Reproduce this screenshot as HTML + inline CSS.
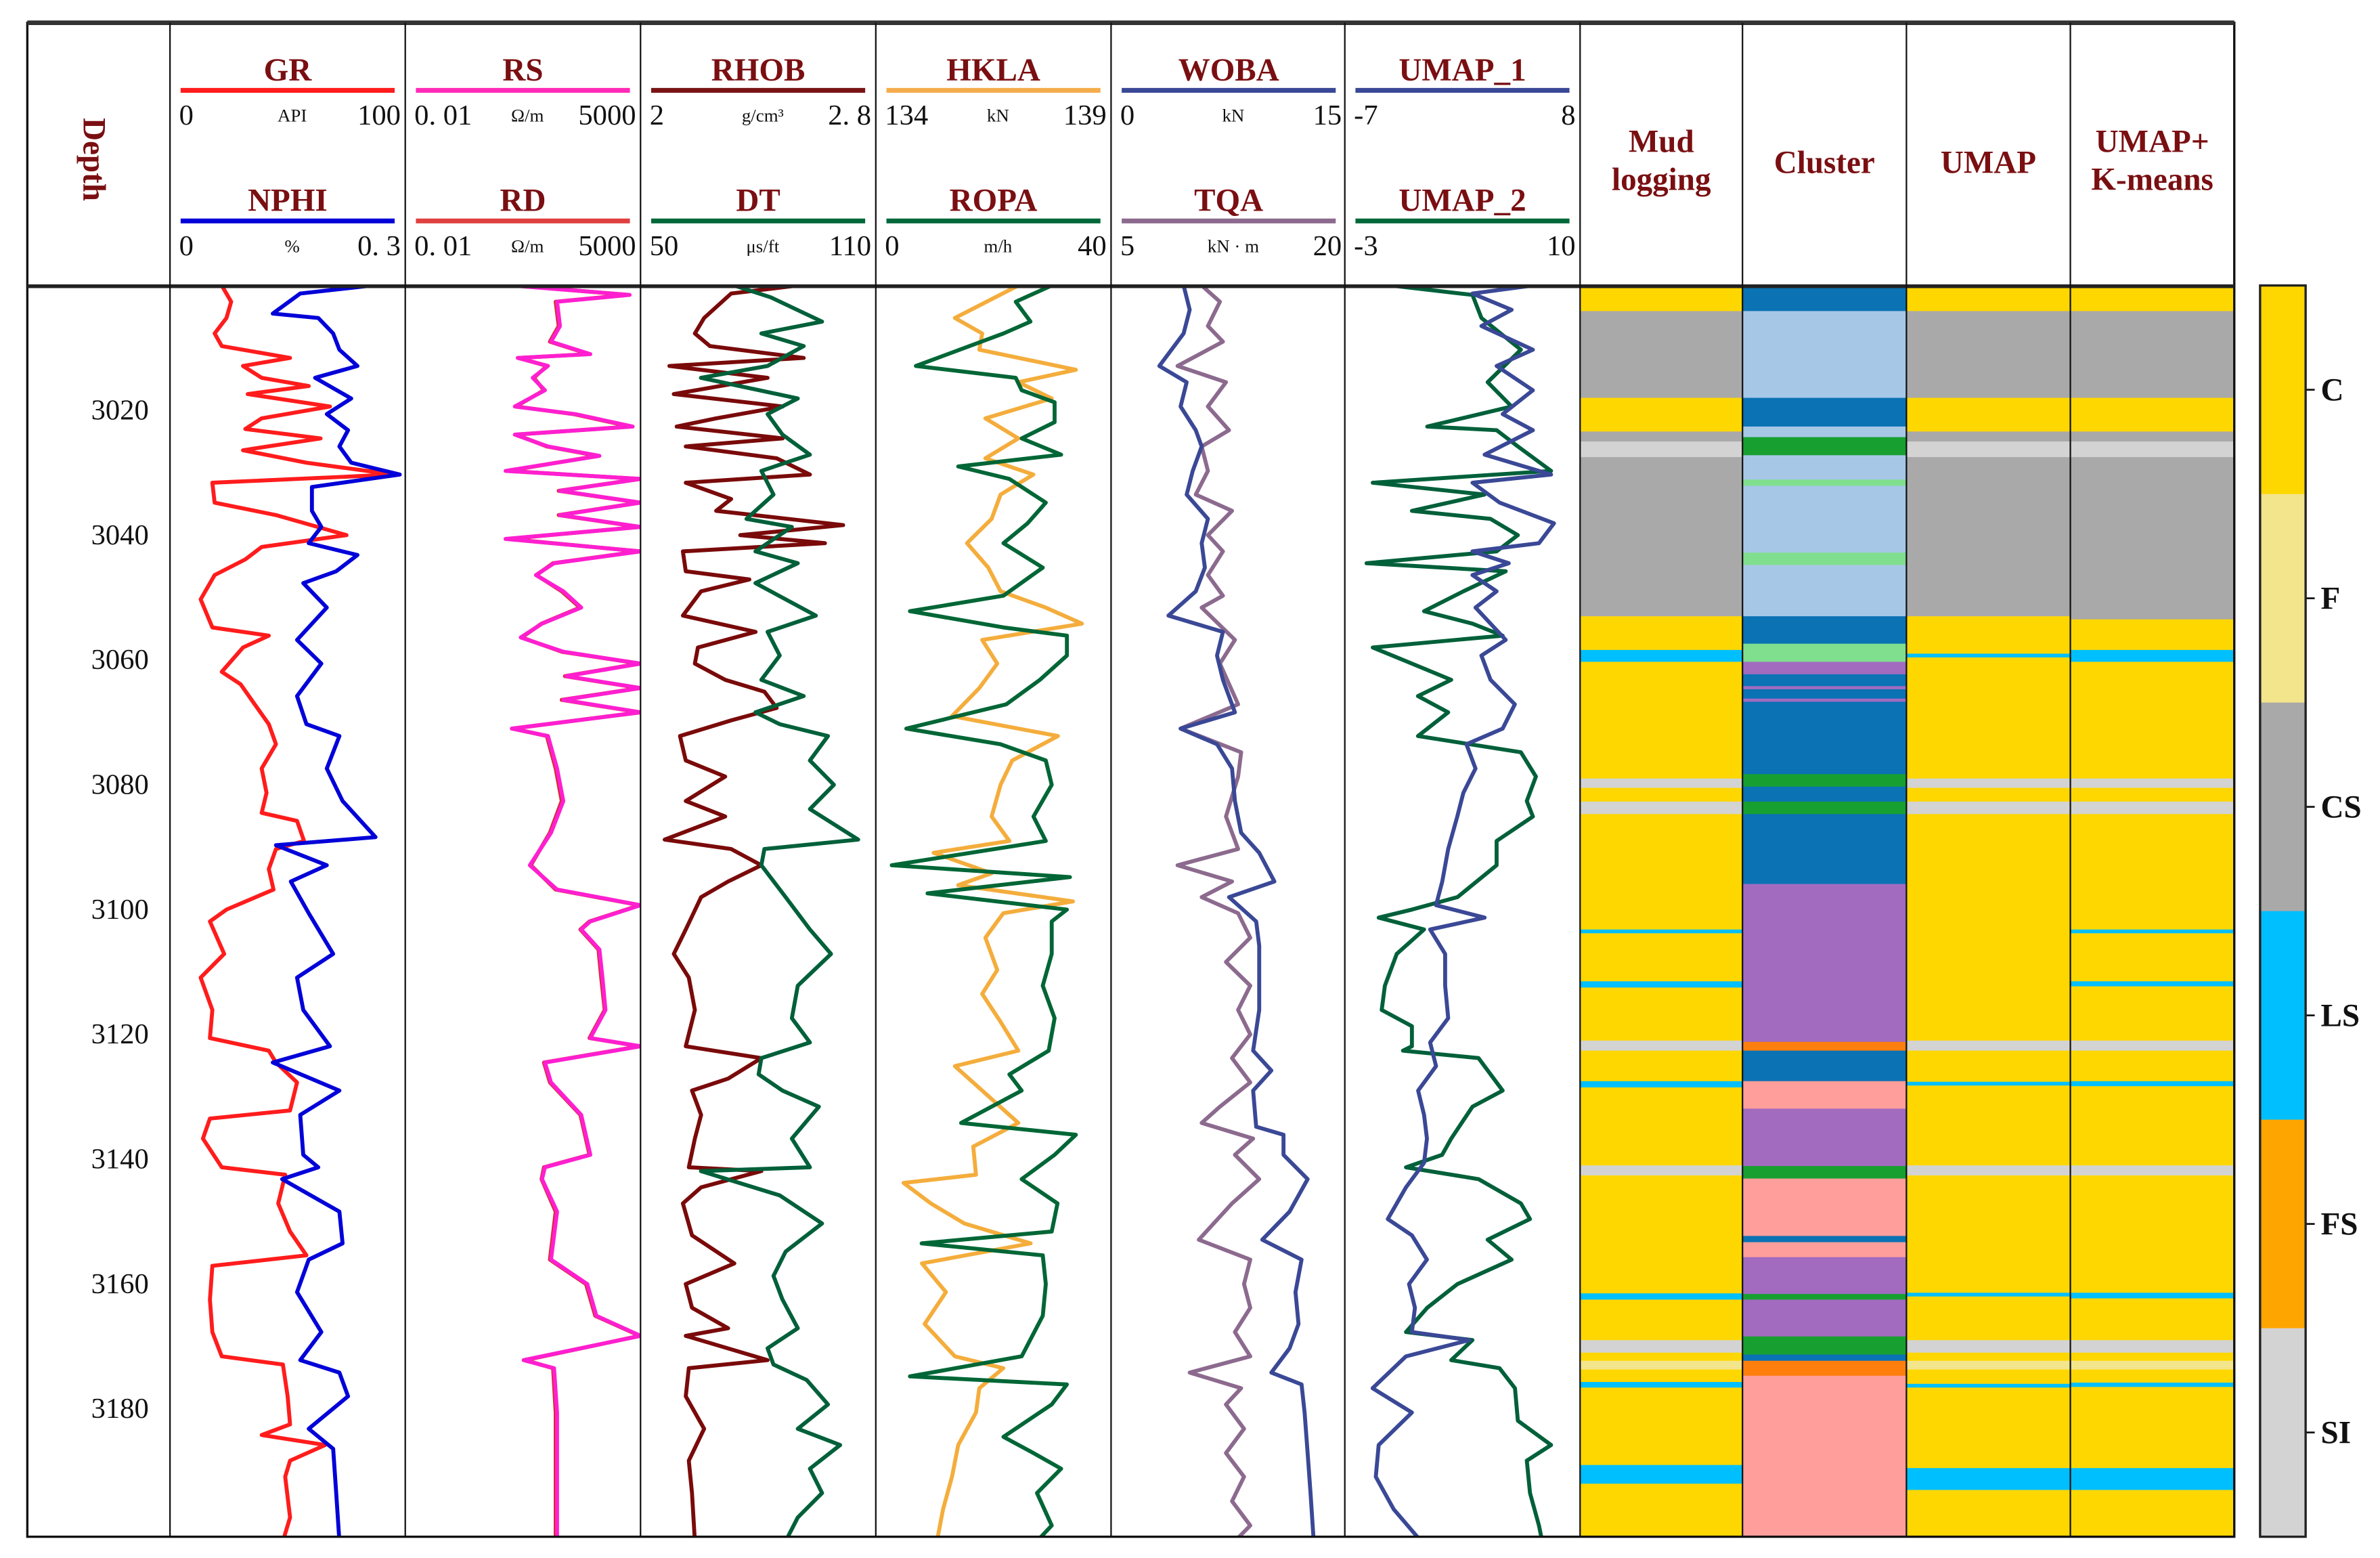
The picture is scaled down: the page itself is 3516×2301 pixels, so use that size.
<!DOCTYPE html>
<html><head><meta charset="utf-8">
<style>
html,body{margin:0;padding:0;background:#fff;}
svg{display:block;}
text{font-family:"Liberation Serif","Noto Serif CJK SC",serif;}
.ttl{font-weight:bold;fill:#7a0f12;font-size:21px;}
.sc{font-size:19px;fill:#111;}
.un{font-size:12px;fill:#111;}
.dl{font-size:19px;fill:#111;}
.lg{font-weight:bold;font-size:21px;fill:#111;}
</style></head>
<body>
<svg id="chart" width="3516" height="2301" viewBox="0 0 1568 1026" preserveAspectRatio="none" xmlns="http://www.w3.org/2000/svg">
<rect x="0" y="0" width="1568" height="1026" fill="#fff"/>
<g id="tracks"></g>
<g id="facies"></g>
<g id="frame"></g>
<g id="hdr"></g>
</svg>
<script>
// ---------- DATA ----------
const gr_d=[3000,3002.6,3005.2,3007.7,3009.7,3011.6,3012.9,3014.8,3016.1,3017.4,3019.4,3021.3,3023,3024.5,3026.4,3028.4,3030.3,3031.6,3034.8,3036.8,3040,3041.9,3043.9,3046.4,3050.3,3054.8,3056.1,3058,3061.9,3063.9,3067.1,3070.3,3073.5,3077.4,3081.3,3084.5,3085.8,3089,3090.3,3093.5,3096.8,3100,3101.9,3107.1,3110.9,3116.1,3120.6,3122.6,3124.5,3127.7,3132.2,3133.5,3136.7,3141.3,3142.5,3147.1,3151.6,3155.4,3157.1,3162.5,3167.7,3171.6,3172.9,3178,3182.5,3184.2,3185.8,3188.3,3190.9,3197.4,3201.2];
const gr_v=[22,26,24,19,22,51,31,39,59,33,68,39,32,64,31,58,95,18,19,45,75,39,32,19,13,18,42,31,22,30,36,42,45,39,41,39,54,57,45,42,44,24,17,23,13,18,17,42,45,54,51,17,14,22,49,46,51,58,18,17,18,22,48,50,51,39,66,51,49,51,48];
const nphi_d=[3000,3001.3,3004.5,3005.2,3007.7,3010.3,3012.9,3014.8,3018.1,3020.6,3023.2,3025.8,3028.4,3030.3,3032.3,3036.1,3038.7,3041.3,3043.2,3045.8,3047.7,3051.6,3056.8,3060.6,3065.8,3070.3,3072.2,3077.4,3082.6,3088.4,3089.7,3092.9,3095.5,3100.6,3107.1,3110.9,3116.1,3121.9,3124.5,3129,3132.9,3139.3,3141.3,3143.2,3148.4,3153.5,3156.1,3161.3,3167.7,3172.2,3174.2,3178,3183.2,3186.4,3193.5,3201.2];
const nphi_v=[0.258,0.166,0.131,0.189,0.208,0.216,0.239,0.185,0.231,0.2,0.227,0.216,0.231,0.293,0.181,0.181,0.193,0.177,0.239,0.212,0.17,0.2,0.162,0.193,0.162,0.174,0.216,0.2,0.22,0.262,0.135,0.2,0.154,0.177,0.208,0.162,0.17,0.204,0.131,0.216,0.166,0.17,0.189,0.143,0.216,0.22,0.177,0.162,0.193,0.166,0.216,0.227,0.177,0.208,0.212,0.216];
const rs_d=[3000,3001.5,3002.6,3006.5,3009,3011,3011.6,3012.9,3014.8,3016.8,3019.4,3020.6,3022.6,3023.9,3025.8,3027.3,3029.7,3031,3032.9,3034.8,3036.8,3038.7,3040.6,3042.6,3044.5,3046.4,3049,3051.6,3054.2,3056.4,3058.7,3060.6,3062.6,3064.5,3066.4,3068.4,3071,3072.2,3077.4,3082.6,3087.7,3092.9,3096.8,3099.3,3101.9,3103.2,3106.4,3110.9,3116.1,3120.6,3121.9,3124.5,3127.7,3132.9,3139.3,3141.3,3143.2,3148.4,3156.1,3160,3165.1,3168.3,3172.2,3173.5,3180.6,3201.2];
const rs_v=[3.8,2720,47.5,56,34,304,5.3,28.7,12.3,24.2,4.5,131,3220,4.5,28.7,505,2.7,5000,56,5000,56,5000,2.7,5000,40,14.6,67,183,20.5,6.3,67,5000,79,5000,67,5000,3.8,28.7,47.5,67,34,10.4,47.5,5000,304,183,505,597,706,304,5000,24.2,34,183,304,24.2,20.5,47.5,34,257,426,5000,7.4,40,47.5,47.5];
const rd_d=rs_d.slice();
const rd_v=[4.5,2500,44,52,32,280,5.6,27,13,23,4.8,120,2900,4.8,27,460,3,4800,52,4800,52,4800,3,4800,38,15,62,170,20,6.6,62,4800,74,4800,62,4800,4,27,44,62,32,11,44,4800,290,175,480,560,680,290,4800,23,32,175,290,23,20,44,32,240,400,4800,8,38,44,44];
const rhob_d=[3000,3001.3,3005.2,3007.7,3009.7,3011.6,3012.9,3014.8,3017.4,3019.4,3021.3,3022.6,3024.5,3025.8,3027.7,3030.3,3031.6,3034.2,3036.1,3038.4,3040,3041.3,3042.6,3045.8,3047.1,3049,3052.9,3055.5,3058,3060.6,3063.2,3065.1,3067.7,3069.7,3072.2,3076.1,3078.7,3082.6,3085.1,3088.8,3090.3,3092.9,3095.5,3098,3103.2,3107.1,3110.9,3116.1,3121.9,3123.8,3127.1,3129,3132.9,3136.7,3141.3,3141.9,3144.5,3147.1,3152.2,3156.7,3160,3163.8,3167.1,3168.3,3172.2,3173.5,3178,3183.2,3188.3,3193.5,3201.2];
const rhob_v=[2.535,2.308,2.216,2.185,2.236,2.555,2.098,2.432,2.113,2.483,2.257,2.123,2.483,2.154,2.463,2.576,2.154,2.308,2.257,2.689,2.339,2.627,2.144,2.154,2.37,2.206,2.144,2.391,2.195,2.185,2.288,2.421,2.463,2.308,2.134,2.154,2.288,2.154,2.288,2.082,2.308,2.411,2.298,2.206,2.154,2.113,2.164,2.185,2.154,2.411,2.298,2.175,2.206,2.185,2.164,2.411,2.206,2.144,2.175,2.319,2.154,2.175,2.298,2.154,2.432,2.164,2.154,2.216,2.164,2.175,2.185];
const dt_d=[3000,3001.9,3005.8,3007.7,3009.7,3012.9,3014.8,3018.1,3020.6,3023.9,3027.1,3029.7,3033.5,3037.4,3038.7,3042.6,3044.5,3047.7,3050.3,3052.9,3055.5,3059.3,3063.2,3065.8,3068.4,3070.3,3072.2,3076.1,3080,3083.9,3088.8,3090.3,3092.9,3098,3103.2,3107.1,3112.2,3117.4,3121.3,3123.8,3126.4,3129,3131.6,3136.7,3141.3,3141.9,3145.8,3150.3,3154.8,3158.7,3162.5,3167.1,3170.3,3172.9,3175.4,3179.3,3183.2,3185.8,3189.6,3193.5,3197.4,3201.2];
const dt_v=[73.9,83.2,96.3,80.8,91.6,82.4,65.4,90.1,82.4,86.2,93.2,80.8,83.9,77,88.6,79.3,90.1,79.3,87,94.7,82.4,85.5,80.8,91.6,79.3,85.5,97.8,93.2,99.3,93.2,105.5,81.6,80.8,87,93.2,98.6,90.1,88.6,93.2,80.8,80.1,86.2,95.5,88.6,93.2,65.4,85.5,96.3,87,83.9,86.2,90.1,82.4,83.9,92.4,97.8,90.1,100.9,93.2,96.3,90.1,87];
const hkla_d=[3000,3005.2,3007.7,3010.3,3013.5,3015.5,3018.1,3021.3,3024.5,3027.7,3030.3,3033.5,3037.4,3041.3,3045.2,3049,3051.6,3054.2,3056.8,3060.6,3064.5,3069,3072.2,3076.1,3080,3085.1,3089,3090.9,3094.2,3096.1,3098.7,3100.6,3104.5,3109.7,3113.5,3118,3122.6,3125.1,3129,3134.2,3138,3142.5,3143.8,3147.1,3150.3,3153.5,3156.7,3161.3,3166.4,3171.6,3173.5,3176.7,3180.6,3185.8,3190.9,3196.1,3201.2];
const hkla_v=[137.03,135.68,136.26,136.2,138.25,137.03,137.74,136.33,137.03,136.33,137.35,136.65,136.46,135.94,136.39,136.65,137.61,138.38,136.26,136.58,136.2,135.62,137.87,136.9,136.65,136.46,136.84,135.23,136.46,135.75,138.19,136.71,136.33,136.58,136.26,136.65,137.03,135.68,136.26,137.03,136.07,136.13,134.59,135.17,135.88,137.29,134.98,135.49,135.04,135.68,136.71,136.2,136.13,135.75,135.62,135.43,135.3];
const ropa_d=[3000,3002.6,3005.8,3007.7,3012.9,3014.8,3016.8,3018.7,3021.9,3024.5,3027.1,3029,3031,3034.8,3038.1,3041.3,3045.2,3049.7,3052.2,3054.8,3056.1,3059.3,3063.2,3067.1,3071,3073.5,3076.1,3080,3085.1,3089,3092.9,3094.8,3097.4,3100,3101.9,3107.1,3112.2,3117.4,3122.6,3126.4,3129,3134.2,3136.1,3139.3,3143.2,3147.1,3151.6,3153.5,3155.4,3160,3165.1,3171.6,3174.8,3176.1,3179.3,3184.5,3187.1,3189.6,3193.5,3198.7,3201.2];
const ropa_v=[29.9,23.8,26.3,21.7,6.8,23.8,24.8,30.4,30.4,24.8,31.5,14,22.7,28.9,25.8,21.7,28.4,21.7,5.8,21.7,32.5,32.5,27.9,22.2,5.2,21.2,28.9,29.9,26.8,28.9,2.7,33,8.8,32.5,29.9,29.9,28.4,30.4,29.4,22.7,24.8,14.5,34,30.4,24.8,30.9,29.9,7.8,28.4,28.9,28.4,24.8,5.8,32.5,29.9,21.7,26.8,31.5,27.4,29.9,27.4];
const woba_d=[3000,3003.9,3007.7,3012.9,3015.5,3019.4,3023.2,3025.8,3029.7,3033.5,3037.4,3041.3,3045.2,3049,3052.9,3055.5,3059.3,3063.2,3068.4,3071,3073.5,3077.4,3082.6,3087.7,3090.9,3095.5,3098,3101.9,3105.8,3110.9,3116.1,3122.6,3125.8,3129,3134.8,3136.1,3139.3,3143.2,3148.4,3152.9,3156.1,3161.3,3166.4,3170.3,3174.2,3176.1,3180.6,3187.1,3193.5,3201.2];
const woba_v=[4.63,5.01,4.63,3.08,4.82,4.43,5.4,5.78,5.21,4.82,6.17,5.78,5.98,5.4,3.66,7.13,6.75,7.13,7.9,4.43,6.75,7.71,7.9,8.29,9.45,10.41,7.52,9.25,9.45,9.45,9.45,9.06,10.22,9.06,9.25,10.99,10.99,12.53,11.38,9.64,12.15,11.76,11.95,11.38,10.22,12.15,12.34,12.53,12.72,12.92];
const tqa_d=[3000,3002.6,3006.5,3009,3012.9,3015.5,3019.4,3023.2,3025.8,3029.7,3033.5,3036.1,3040,3042.6,3046.4,3049.7,3051.6,3056.8,3060.6,3067.1,3071,3074.8,3078.7,3085.1,3090.3,3092.9,3095.5,3098,3100.6,3104.5,3108.4,3112.2,3116.1,3120,3123.8,3127.7,3131.6,3134.2,3136.7,3139.3,3143.2,3147.1,3152.9,3156.1,3160,3163.8,3167.7,3171.6,3174.2,3176.7,3179.3,3183.2,3187.1,3190.9,3194.8,3198.7,3201.2];
const tqa_v=[10.78,11.94,11.17,12.13,9.24,12.33,11.17,12.52,10.78,11.17,10.4,12.71,11.17,12.13,11.17,12.13,10.78,12.9,11.94,13.1,9.43,13.29,13.1,12.33,13.1,9.24,12.71,10.78,13.1,13.87,12.33,13.87,13.1,13.87,12.71,13.87,11.94,10.78,14.06,12.9,14.45,12.71,10.59,13.87,13.48,13.87,12.9,13.87,10.01,13.29,12.33,13.48,12.33,13.48,12.71,13.87,12.9];
const u1_d=[3000,3001.3,3003.9,3006.5,3010.3,3012.9,3016.8,3020.6,3023.2,3027.1,3030.3,3031.6,3034.8,3038.1,3041.3,3042.6,3044.5,3046.4,3049,3051.6,3056.8,3059.3,3063.2,3067.1,3071,3073.5,3077.4,3081.3,3085.1,3090.3,3095.5,3099.3,3101.3,3103.2,3107.1,3112.2,3117.4,3121.3,3125.1,3129,3132.9,3136.7,3140.6,3144.5,3149.6,3152.2,3156.1,3160,3163.8,3167.7,3169,3171.6,3176.7,3180.6,3185.8,3190.9,3196.1,3201.2];
const u1_v=[4.99,1.14,3.64,1.71,4.99,2.68,4.99,3.06,4.99,1.91,6.15,1.14,2.87,6.34,5.38,1.14,3.45,1.14,2.68,1.33,3.26,1.71,2.29,3.84,3.06,0.75,1.33,0.56,0.17,-0.41,-0.79,-1.18,1.91,-1.56,-0.6,-0.6,-0.41,-1.56,-1.18,-2.33,-1.95,-1.76,-1.95,-3.1,-4.26,-2.72,-1.76,-2.91,-2.53,-2.72,0.94,-3.1,-5.23,-2.72,-4.84,-5.03,-3.88,-2.14];
const u2_d=[3000,3001.5,3005.2,3010.3,3015.5,3019.4,3022.6,3023.2,3025.8,3029.7,3031.6,3033.5,3036.1,3037.4,3040,3042.6,3044.5,3045.8,3049,3052.2,3054.2,3056.1,3058,3060.6,3063.2,3065.8,3068.4,3072.2,3074.8,3078.7,3082.6,3085.1,3089,3092.9,3098,3100,3101.3,3103.2,3107.1,3112.2,3116.1,3118.7,3121.9,3122.6,3123.8,3129,3131.6,3136.7,3139.3,3141.3,3143.2,3147.1,3149.6,3152.9,3156.1,3160,3163.8,3167.7,3169,3172.2,3173.5,3176.7,3181.9,3185.8,3188.3,3193.5,3198.7,3201.2];
const u2_v=[-0.46,4.05,4.55,6.73,4.89,6.22,1.55,5.39,6.56,8.4,-1.46,4.72,0.71,5.05,6.56,5.39,-1.8,5.89,3.55,1.38,4.05,5.72,-1.46,0.71,2.88,1.04,2.71,1.04,6.73,7.56,7.06,7.39,5.39,5.39,3.22,0.71,-1.13,1.38,-0.13,-0.79,-0.96,0.71,0.71,0.21,4.39,5.72,4.05,2.88,2.38,0.38,4.39,6.73,7.23,4.89,6.22,3.22,1.55,0.38,4.05,2.88,5.55,6.4,6.56,8.4,7.06,7.23,7.73,7.9];
// facies intervals: tops and codes
const mud_top=[3000,3004.1,3018,3023.4,3025,3027.5,3053,3058.4,3060.3,3079,3080.5,3082.7,3084.7,3103.2,3103.8,3111.5,3112.5,3121,3122.6,3127.5,3128.5,3141,3142.6,3161.5,3162.5,3169,3171,3172.3,3173.7,3175.7,3176.6,3189,3192];
const mud_code=['C','CS','C','CS','SI','CS','C','LS','C','SI','C','SI','C','LS','C','LS','C','SI','C','LS','C','SI','C','LS','C','SI','C','F','C','LS','C','LS','C'];
const umap_top=[3000,3004.1,3018,3023.4,3025,3027.5,3053,3059,3059.6,3079,3080.5,3082.7,3084.7,3121,3122.6,3127.6,3128.2,3141,3142.6,3161.4,3162,3169,3171,3172.3,3173.7,3176,3176.6,3189.5,3193];
const umap_code=['C','CS','C','CS','SI','CS','C','LS','C','SI','C','SI','C','SI','C','LS','C','SI','C','LS','C','SI','C','F','C','LS','C','LS','C'];
const umk_top=[3000,3004.1,3018,3023.4,3025,3027.5,3053.5,3058.4,3060.3,3079,3080.5,3082.7,3084.7,3103.2,3103.8,3111.5,3112.3,3121,3122.6,3127.5,3128.3,3141,3142.6,3161.4,3162.3,3169,3171,3172.3,3173.7,3175.8,3176.5,3189.5,3193];
const umk_code=['C','CS','C','CS','SI','CS','C','LS','C','SI','C','SI','C','LS','C','LS','C','SI','C','LS','C','SI','C','LS','C','SI','C','F','C','LS','C','LS','C'];
const clu_top=[3000,3004.1,3018,3022.6,3024.3,3027.2,3031.1,3032.1,3042.8,3044.8,3053,3057.4,3060.3,3062.3,3064.2,3064.7,3066.2,3066.7,3078.3,3080.3,3082.7,3084.7,3095.9,3121.2,3122.6,3127.5,3131.9,3141.1,3143.1,3152.3,3153.3,3155.7,3161.6,3162.5,3168.4,3171.3,3172.3,3174.7];
const clu_code=[0,1,0,1,2,1,3,1,3,1,0,3,4,0,4,0,4,0,2,0,2,0,4,5,0,6,4,2,6,0,6,4,2,4,2,0,5,6];
const faciesNames=['C','F','CS','LS','FS','SI'];
const depthTicks=[3020,3040,3060,3080,3100,3120,3140,3160,3180];

// ---------- LAYOUT ----------
const NS='http://www.w3.org/2000/svg';
const TOP=188,BOT=1012,D0=3000,D1=3200.5;
const yOf=d=>TOP+(d-D0)*(BOT-TOP)/(D1-D0);
const trackX=[112,267,422,577,732,886];
const TW=155;
const facColor={C:'#ffd700',F:'#f3e58c',CS:'#a9a9a9',LS:'#00bfff',FS:'#ffa500',SI:'#d3d3d3'};
const cluColor=['#0b72b4','#a7c7e7','#17a030','#80df8e','#a26bbf','#ff7f0e','#ff9e9a'];
function el(tag,attrs,parent){const e=document.createElementNS(NS,tag);for(const k in attrs)e.setAttribute(k,attrs[k]);if(parent)parent.appendChild(e);return e;}
const svg=document.getElementById('chart');
const gT=document.getElementById('tracks'),gF=document.getElementById('facies'),gFr=document.getElementById('frame'),gH=document.getElementById('hdr');
const defs=el('defs',{},svg);
trackX.forEach((x,i)=>{const cp=el('clipPath',{id:'cp'+i},defs);el('rect',{x:x,y:TOP,width:TW,height:BOT-TOP},cp);});

function lin(a,b){return v=>(v-a)/(b-a);}
function logs(a,b){return v=>(Math.log10(v)-Math.log10(a))/(Math.log10(b)-Math.log10(a));}
function curve(ti,ds,vs,sc,color,name){
  const x0=trackX[ti];
  const pts=ds.map((d,i)=>(x0+sc(vs[i])*TW).toFixed(1)+','+yOf(d).toFixed(1)).join(' ');
  const p=el('polyline',{points:pts,fill:'none',stroke:color,'stroke-width':2.6,'stroke-linejoin':'round','clip-path':'url(#cp'+ti+')'},gT);
  
  
}
curve(0,gr_d,gr_v,lin(0,100),'#ff1c1c','gr-curve');
curve(0,nphi_d,nphi_v,lin(0,0.3),'#0000d8','nphi-curve');
curve(1,rd_d,rd_v,logs(0.01,5000),'#d42a2a','rd-curve');
curve(1,rs_d,rs_v,logs(0.01,5000),'#ff1fd0','rs-curve');
curve(2,rhob_d,rhob_v,lin(2,2.8),'#7a0a0a','rhob-curve');
curve(2,dt_d,dt_v,lin(50,110),'#00603a','dt-curve');
curve(3,hkla_d,hkla_v,lin(134,139),'#f4ad3c','hkla-curve');
curve(3,ropa_d,ropa_v,lin(0,40),'#006636','ropa-curve');
curve(4,tqa_d,tqa_v,lin(5,20),'#8c6a8e','tqa-curve');
curve(4,woba_d,woba_v,lin(0,15),'#3a4896','woba-curve');
curve(5,u2_d,u2_v,lin(-3,10),'#00603a','umap2-curve');
curve(5,u1_d,u1_v,lin(-7,8),'#3a4896','umap1-curve');

function facCol(x,w,tops,codes,colorFn,name){
  tops.forEach((t,i)=>{
    const b=i<tops.length-1?tops[i+1]:D1;
    const r=el('rect',{x:x,y:yOf(t).toFixed(2),width:w,height:(yOf(b)-yOf(t)+0.3).toFixed(2),fill:colorFn(codes[i])},gF);
    
    
  });
}
facCol(1041,107,mud_top,mud_code,c=>facColor[c],'mud-logging');
facCol(1148,108,clu_top,clu_code,c=>cluColor[c],'cluster');
facCol(1256,108,umap_top,umap_code,c=>facColor[c],'umap');
facCol(1364,108,umk_top,umk_code,c=>facColor[c],'umap-kmeans');

// frame
el('rect',{x:18,y:15,width:1454,height:997,fill:'none',stroke:'#111','stroke-width':1.5},gFr);
el('line',{x1:18,y1:15,x2:1472,y2:15,stroke:'#333','stroke-width':3},gFr);
el('line',{x1:18,y1:188.5,x2:1472,y2:188.5,stroke:'#222','stroke-width':2.5},gFr);
[112,267,422,577,732,886,1041,1148,1256,1364].forEach(x=>el('line',{x1:x,y1:15,x2:x,y2:1012,stroke:'#111','stroke-width':1},gFr));

// depth labels
const dt=el('text',{class:'ttl',x:0,y:0,transform:'translate(55,105) rotate(90)','text-anchor':'middle','font-size':23},gH);
dt.textContent='Depth';


depthTicks.forEach(d=>{
  const t=el('text',{class:'dl',x:98,y:(yOf(d)+6).toFixed(1),'text-anchor':'end'},gH);
  t.textContent=d;
  
  
});

// headers
const hdrs=[
 ['GR','#ff1c1c','0','API','100','NPHI','#0000d8','0','%','0. 3'],
 ['RS','#ff2ab8','0. 01','Ω/m','5000','RD','#e04040','0. 01','Ω/m','5000'],
 ['RHOB','#7a1414','2','g/cm³','2. 8','DT','#00683a','50','μs/ft','110'],
 ['HKLA','#f4ad4c','134','kN','139','ROPA','#00683a','0','m/h','40'],
 ['WOBA','#3a4896','0','kN','15','TQA','#8c6a8e','5','kN · m','20'],
 ['UMAP_1','#3a4896','-7','','8','UMAP_2','#00683a','-3','','10']];
function txt(s,attrs,name){const t=el('text',attrs,gH);t.textContent=s;return t;}
hdrs.forEach((h,i)=>{
  const x=trackX[i];
  [0,1].forEach(k=>{
    const o=k*5, yb=k?139:53;
    txt(h[o],{class:'ttl',x:x+TW/2,y:yb,'text-anchor':'middle'},h[o].toLowerCase()+'-title');
    const ln=el('line',{x1:x+7,y1:yb+6.5,x2:x+148,y2:yb+6.5,stroke:h[o+1],'stroke-width':3.2},gH);
    
    
    txt(h[o+2],{class:'sc',x:x+6,y:yb+29},h[o].toLowerCase()+'-scale-min');
    txt(h[o+3],{class:'un',x:x+TW/2+3,y:yb+27,'text-anchor':'middle'},h[o].toLowerCase()+'-unit');
    txt(h[o+4],{class:'sc',x:x+TW-3,y:yb+29,'text-anchor':'end'},h[o].toLowerCase()+'-scale-max');
  });
});
txt('Mud',{class:'ttl',x:1094.5,y:100,'text-anchor':'middle'},'mud-logging-header');
txt('logging',{class:'ttl',x:1094.5,y:125,'text-anchor':'middle'},'mud-logging-header');
txt('Cluster',{class:'ttl',x:1202,y:114,'text-anchor':'middle'},'cluster-header');
txt('UMAP',{class:'ttl',x:1310,y:114,'text-anchor':'middle'},'umap-header');
txt('UMAP+',{class:'ttl',x:1418,y:100,'text-anchor':'middle'},'umap-kmeans-header');
txt('K-means',{class:'ttl',x:1418,y:125,'text-anchor':'middle'},'umap-kmeans-header');

// legend colorbar
const LX=1489,LW=30,seg=(BOT-TOP)/faciesNames.length;
faciesNames.forEach((f,i)=>{
  const r=el('rect',{x:LX,y:TOP+i*seg,width:LW,height:seg+0.3,fill:facColor[f]},gH);
  
  
  el('line',{x1:LX+LW,y1:TOP+(i+0.5)*seg,x2:LX+LW+6,y2:TOP+(i+0.5)*seg,stroke:'#111','stroke-width':1.2},gH);
  txt(f,{class:'lg',x:LX+LW+10,y:TOP+(i+0.5)*seg+7},'legend-label-'+f.toLowerCase());
});
el('rect',{x:LX,y:TOP,width:LW,height:BOT-TOP,fill:'none',stroke:'#222','stroke-width':1.5},gH);
</script>
</body></html>
